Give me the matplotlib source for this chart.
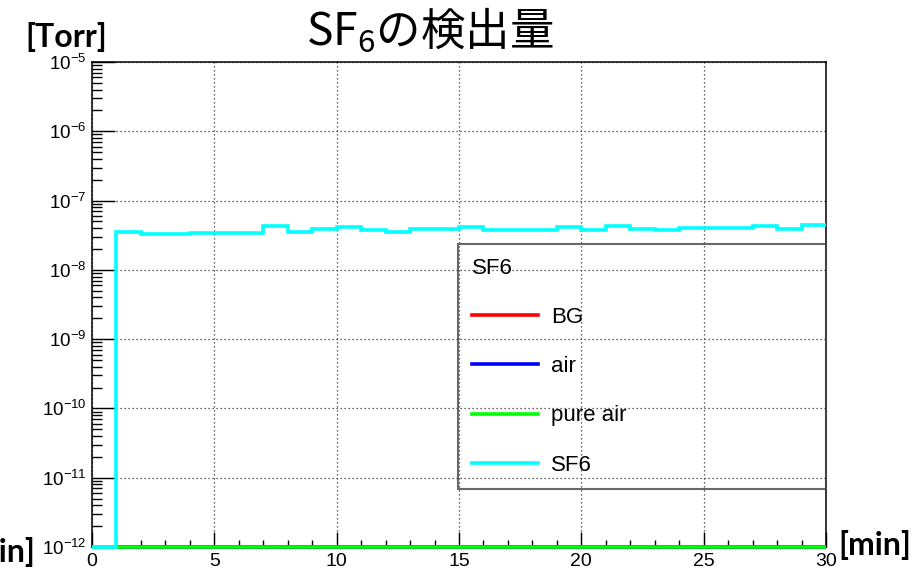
import numpy as np
import matplotlib
matplotlib.use("Agg")
import matplotlib.pyplot as plt
from matplotlib.lines import Line2D
from matplotlib.ticker import LogLocator, MultipleLocator, FuncFormatter, NullFormatter

plt.rcParams["font.family"] = ["Liberation Sans", "DejaVu Sans"]
plt.rcParams["mathtext.default"] = "regular"

# histogram binning (minutes)
bin_edges = np.arange(0, 31, 1)

# detected partial pressure per 1-minute bin [Torr]
sf6 = [0.0, 3.53e-8, 3.27e-8, 3.27e-8, 3.46e-8, 3.46e-8, 3.46e-8, 4.27e-8,
       3.57e-8, 3.95e-8, 4.10e-8, 3.73e-8, 3.57e-8, 3.86e-8, 3.86e-8, 4.17e-8,
       3.82e-8, 3.82e-8, 3.82e-8, 4.17e-8, 3.82e-8, 4.27e-8, 3.95e-8, 3.78e-8,
       4.03e-8, 4.03e-8, 4.03e-8, 4.31e-8, 3.95e-8, 4.46e-8]
bg = [0.0] * 30
air = [0.0] * 30
pure_air = [0.0] * 30

series_names = ["BG", "air", "pure air", "SF6"]
series_colors = ["#ff0000", "#0000ff", "#00ff00", "#00ffff"]

y_min, y_max = 1e-12, 1e-5
x_min, x_max = 0, 30

fig = plt.figure(figsize=(9.22, 5.73), dpi=100)
ax = fig.add_axes([92 / 922, 26 / 573, 734 / 922, 485 / 573])

handles = []
for vals, name, col in zip([bg, air, pure_air, sf6], series_names, series_colors):
    # empty bins sit on the lower edge of the log axis
    shown = np.maximum(np.asarray(vals, dtype=float), y_min)
    ax.stairs(shown, bin_edges, baseline=None, color=col, lw=2.6,
              clip_on=False, zorder=3)
    handles.append(Line2D([], [], color=col, lw=2.6))

ax.set_yscale("log")
ax.set_xlim(x_min, x_max)
ax.set_ylim(y_min, y_max)

ax.xaxis.set_major_locator(MultipleLocator(5))
ax.xaxis.set_minor_locator(MultipleLocator(1))
ax.yaxis.set_major_locator(LogLocator(base=10, numticks=20))
ax.yaxis.set_minor_locator(LogLocator(base=10, subs=np.arange(2, 10), numticks=20))
ax.yaxis.set_major_formatter(FuncFormatter(lambda v, p: r"$10^{%d}$" % round(np.log10(v))))
ax.yaxis.set_minor_formatter(NullFormatter())

ax.tick_params(axis="x", which="major", direction="in", length=10.8, width=1.0,
               top=False, labelsize=14, pad=4)
ax.tick_params(axis="x", which="minor", direction="in", length=5, width=1.0, top=False)
ax.tick_params(axis="y", which="major", direction="in", length=16.5, width=1.0,
               right=False, labelsize=13.5, pad=4)
ax.tick_params(axis="y", which="minor", direction="in", length=7.5, width=1.0, right=False)

for s in ax.spines.values():
    s.set_linewidth(1.1)
    s.set_color("black")

ax.grid(True, which="major", color="#333333", lw=0.9, ls=(0, (1, 2.2)))
ax.set_axisbelow(True)

leg = ax.legend(handles, series_names, title="SF6", loc="upper left",
                bbox_to_anchor=(0.499, 0.126, 0.501, 0.499), mode="expand",
                borderaxespad=0, fontsize=16, title_fontsize=16,
                handlelength=2.95, handletextpad=0.62, labelspacing=1.27,
                borderpad=0.62, fancybox=False, alignment="left")
leg.get_frame().set_facecolor("none")
leg.get_frame().set_edgecolor("#444444")
leg.get_frame().set_linewidth(1.5)

fig.text(430 / 922, 1 - 45 / 573, "SF$_6$の検出量", ha="center", va="baseline",
         family=["Noto Sans CJK JP"], size=32)
fig.text(25 / 922, 1 - 47 / 573, "[Torr]", ha="left", va="baseline",
         family=["Lato"], weight="bold", size=23)
fig.text(838 / 922, 1 - 555 / 573, "[min]", ha="left", va="baseline",
         family=["Lato"], weight="bold", size=23)
fig.text(35 / 922, 1 - 562 / 573, "[min]", ha="right", va="baseline",
         family=["Lato"], weight="bold", size=23)

fig.savefig("out.png", dpi=100)
